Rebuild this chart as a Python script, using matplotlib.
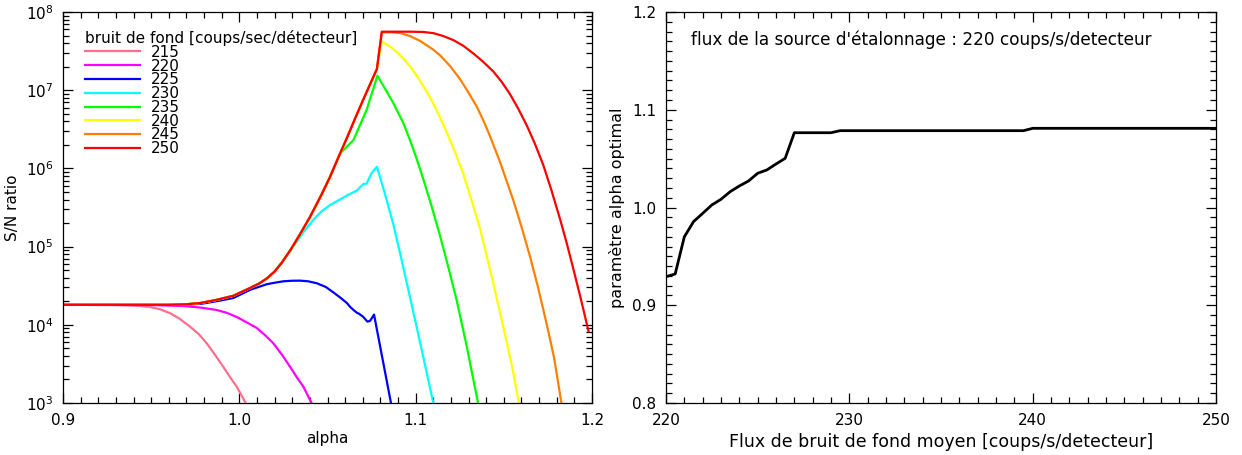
import matplotlib
matplotlib.use("Agg")
import matplotlib.pyplot as plt
from matplotlib.ticker import MultipleLocator, LogLocator, FormatStrFormatter

# --- left panel : S/N ratio vs alpha, one curve per background level ---
levels = ["215", "220", "225", "230", "235", "240", "245", "250"]
colors = ["#ff6e8c", "#ff00ff", "#0000ff", "#00ffff", "#00ff00", "#ffff00", "#ff8000", "#ff0000"]

a_215 = [0.90, 0.93, 0.94, 0.949, 0.955, 0.9607, 0.966, 0.972, 0.977, 0.9815, 0.986,
         0.9909, 0.995, 0.9985, 1.0036, 1.005]
sn_215 = [1.8e4, 1.79e4, 1.76e4, 1.7e4, 1.58e4, 1.41e4, 1.2e4, 9.5e3, 7.6e3, 5.8e3, 4.2e3,
          2.9e3, 2.1e3, 1.62e3, 1.0e3, 8.5e2]

a_220 = [0.90, 0.95, 0.968, 0.978, 0.987, 0.993, 0.9985, 1.004, 1.0099, 1.0145, 1.0193,
         1.024, 1.0288, 1.0325, 1.0363, 1.041, 1.043]
sn_220 = [1.8e4, 1.79e4, 1.74e4, 1.66e4, 1.55e4, 1.42e4, 1.26e4, 1.08e4, 9.1e3, 7.4e3, 5.8e3,
          4.2e3, 2.9e3, 2.15e3, 1.62e3, 1.0e3, 8.5e2]

a_225 = [0.90, 0.96, 0.978, 0.987, 0.9966, 1.0061, 1.011, 1.0155, 1.02, 1.025, 1.03, 1.0344,
         1.039, 1.0439, 1.049, 1.0533, 1.057, 1.061, 1.063, 1.0647, 1.0666, 1.068, 1.0703,
         1.0726, 1.0741, 1.0764, 1.086, 1.087]
sn_225 = [1.8e4, 1.8e4, 1.85e4, 2.0e4, 2.2e4, 2.8e4, 3.05e4, 3.3e4, 3.45e4, 3.6e4, 3.66e4, 3.67e4,
          3.6e4, 3.4e4, 3.05e4, 2.6e4, 2.25e4, 1.9e4, 1.68e4, 1.55e4, 1.43e4, 1.38e4, 1.26e4,
          1.1e4, 1.12e4, 1.35e4, 1.0e3, 8.5e2]

# part shared by the 230..250 curves
a_rise = [0.90, 0.96, 0.97, 0.978, 0.987, 0.9966, 1.006, 1.011, 1.0155, 1.02, 1.024, 1.0288]
sn_rise = [1.8e4, 1.8e4, 1.83e4, 1.9e4, 2.08e4, 2.35e4, 2.95e4, 3.35e4, 3.9e4, 4.8e4, 6.2e4, 8.9e4]
a_rise2 = [1.0345, 1.0401, 1.0465, 1.0514, 1.0571]
sn_rise2 = [1.45e5, 2.4e5, 4.57e5, 7.76e5, 1.55e6]
a_rise3 = [1.061, 1.0655, 1.0703, 1.076, 1.078]
sn_rise3 = [2.45e6, 4.27e6, 7.6e6, 1.48e7, 1.86e7]

a_230 = a_rise + [1.0325, 1.037, 1.042, 1.0465, 1.0514, 1.0571, 1.061, 1.0666, 1.0703, 1.0722,
                  1.075, 1.078, 1.0825, 1.0874, 1.092, 1.0968, 1.1006, 1.1044, 1.110, 1.111]
sn_230 = sn_rise + [1.15e5, 1.6e5, 2.2e5, 2.8e5, 3.4e5, 4.0e5, 4.5e5, 5.2e5, 6.3e5, 6.4e5,
                    8.7e5, 1.05e6, 4.8e5, 1.9e5, 6.8e4, 2.24e4, 9.3e3, 3.8e3, 1.0e3, 8.0e2]

a_235 = a_rise + a_rise2 + [1.0647, 1.0722, 1.0783, 1.0826, 1.0874, 1.093, 1.0968, 1.1006,
                            1.1044, 1.109, 1.1138, 1.1185, 1.1233, 1.129, 1.1343, 1.136]
sn_235 = sn_rise + sn_rise2 + [2.3e6, 5.6e6, 1.53e7, 1.05e7, 6.8e6, 3.8e6, 2.3e6, 1.32e6,
                               7.2e5, 3.3e5, 1.38e5, 5.5e4, 2.04e4, 5.25e3, 1.32e3, 8.5e2]

a_240 = a_rise + a_rise2 + a_rise3 + [1.0808, 1.086, 1.0911, 1.097, 1.1025, 1.1076, 1.112,
                                      1.1176, 1.1225, 1.127, 1.132, 1.1365, 1.1403, 1.144,
                                      1.148, 1.1517, 1.155, 1.1583, 1.160]
sn_240 = sn_rise + sn_rise2 + sn_rise3 + [4.17e7, 3.55e7, 2.82e7, 2.0e7, 1.32e7, 8.5e6, 5.5e6,
                                          2.9e6, 1.58e6, 8.5e5, 3.7e5, 1.7e5, 7.6e4, 3.4e4,
                                          1.38e4, 5.9e3, 2.7e3, 1.07e3, 7.9e2]

a_245 = a_rise + a_rise2 + a_rise3 + [1.0808, 1.086, 1.0911, 1.097, 1.1025, 1.110, 1.1138,
                                      1.1195, 1.1252, 1.13, 1.1346, 1.1384, 1.1422, 1.1479,
                                      1.1554, 1.16, 1.1649, 1.1695, 1.1744, 1.1785, 1.1825, 1.184]
sn_245 = sn_rise + sn_rise2 + sn_rise3 + [5.5e7, 5.5e7, 5.4e7, 4.9e7, 4.27e7, 3.3e7, 2.8e7,
                                          2.04e7, 1.38e7, 9.3e6, 6.2e6, 4.1e6, 2.57e6, 1.2e6,
                                          3.9e5, 1.8e5, 7.4e4, 2.95e4, 1.0e4, 3.8e3, 1.05e3, 7.5e2]

a_250 = a_rise + a_rise2 + a_rise3 + [1.0808, 1.090, 1.0968, 1.104, 1.110, 1.116, 1.1214,
                                      1.127, 1.1327, 1.138, 1.144, 1.149, 1.1535, 1.158,
                                      1.163, 1.1675, 1.1724, 1.177, 1.182, 1.1857, 1.1895,
                                      1.194, 1.198]
sn_250 = sn_rise + sn_rise2 + sn_rise3 + [5.6e7, 5.6e7, 5.6e7, 5.56e7, 5.37e7, 4.9e7, 4.37e7,
                                          3.7e7, 2.95e7, 2.34e7, 1.74e7, 1.26e7, 8.9e6, 5.9e6,
                                          3.55e6, 2.1e6, 1.1e6, 5.25e5, 2.2e5, 1.1e5, 5.1e4,
                                          2.0e4, 8.3e3]

alphas = [a_215, a_220, a_225, a_230, a_235, a_240, a_245, a_250]
sns = [sn_215, sn_220, sn_225, sn_230, sn_235, sn_240, sn_245, sn_250]

# --- right panel : optimal alpha vs mean background flux ---
flux = [220, 220.5, 221, 221.5, 222, 222.5, 223, 223.5, 224, 224.5, 225, 225.5,
        226, 226.5, 227, 229, 229.5, 239.5, 240, 250]
alpha_opt = [0.9292, 0.932, 0.970, 0.9855, 0.994, 1.0026, 1.0084, 1.0162, 1.022, 1.0271,
             1.035, 1.0384, 1.0445, 1.0503, 1.0765, 1.0765, 1.0786, 1.0786, 1.081, 1.081]

plt.rcParams['font.family'] = 'DejaVu Sans'
plt.rcParams['font.size'] = 11
plt.rcParams['axes.linewidth'] = 0.9

fig = plt.figure(figsize=(12.42, 4.55), dpi=100)
ax1 = fig.add_axes([63 / 1242, 52 / 455, 529 / 1242, 391 / 455])
ax2 = fig.add_axes([666 / 1242, 52 / 455, 550 / 1242, 391 / 455])

for a, s, c, lab in zip(alphas, sns, colors, levels):
    ax1.plot(a, s, color=c, lw=1.6, label=lab)

ax1.set_yscale('log')
ax1.set_xlim(0.9, 1.2)
ax1.set_ylim(1e3, 1e8)
ax1.xaxis.set_major_locator(MultipleLocator(0.1))
ax1.xaxis.set_minor_locator(MultipleLocator(0.01))
ax1.xaxis.set_major_formatter(FormatStrFormatter('%.1f'))
ax1.yaxis.set_minor_locator(LogLocator(base=10, subs=range(2, 10), numticks=20))
ax1.set_xlabel("alpha")
ax1.set_ylabel("S/N ratio")
ax1.xaxis.set_label_coords(0.5, -0.072)
ax1.yaxis.set_label_coords(-0.081, 0.5)

leg = ax1.legend(loc='upper left', bbox_to_anchor=(0.042, 0.954), frameon=False,
                 title="bruit de fond [coups/sec/détecteur]", alignment='left',
                 handlelength=3.6, handletextpad=0.7, labelspacing=-0.08,
                 borderpad=0, borderaxespad=0, fontsize=11, title_fontsize=11)

ax2.plot(flux, alpha_opt, color='black', lw=2)
ax2.set_xlim(220, 250)
ax2.set_ylim(0.8, 1.2)
ax2.xaxis.set_major_locator(MultipleLocator(10))
ax2.xaxis.set_minor_locator(MultipleLocator(1))
ax2.yaxis.set_major_locator(MultipleLocator(0.1))
ax2.yaxis.set_minor_locator(MultipleLocator(0.01))
ax2.yaxis.set_major_formatter(FormatStrFormatter('%.1f'))
ax2.set_xlabel("Flux de bruit de fond moyen [coups/s/detecteur]", fontsize=12.5)
ax2.set_ylabel("paramètre alpha optimal", fontsize=11.5)
ax2.xaxis.set_label_coords(0.5, -0.077)
ax2.yaxis.set_label_coords(-0.0745, 0.5)
ax2.text(0.045, 0.928, "flux de la source d'étalonnage : 220 coups/s/detecteur",
         transform=ax2.transAxes, ha='left', va='center', fontsize=12.2)

for ax in (ax1, ax2):
    ax.tick_params(which='both', direction='in', top=True, right=True, labelsize=11)
    ax.tick_params(which='major', length=7, width=0.9, pad=7)
    ax.tick_params(which='minor', length=4.5, width=0.9)

fig.savefig("out.png", dpi=100)
